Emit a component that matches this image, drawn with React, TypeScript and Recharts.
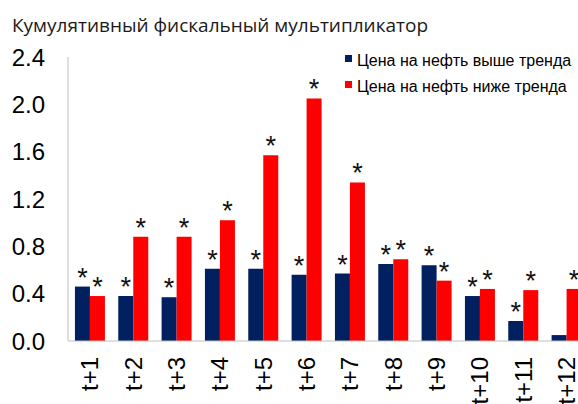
import React from "react";
import { BarChart, Bar, XAxis, YAxis, Legend, LabelList } from "recharts";

const categories = ["t+1", "t+2", "t+3", "t+4", "t+5", "t+6", "t+7", "t+8", "t+9", "t+10", "t+11", "t+12"];
const aboveTrend = [0.46, 0.38, 0.37, 0.61, 0.61, 0.56, 0.57, 0.65, 0.64, 0.38, 0.17, 0.05];
const belowTrend = [0.38, 0.88, 0.88, 1.02, 1.57, 2.05, 1.34, 0.69, 0.51, 0.44, 0.43, 0.44];
// significance marks (asterisks) above the bars
const aboveStars = [true, true, true, true, true, true, true, true, true, true, true, false];
const belowStars = [true, true, true, true, true, true, true, true, true, true, true, true];
const yTicks = [0, 0.4, 0.8, 1.2, 1.6, 2.0, 2.4];

const data = categories.map((cat, i) => ({
  cat,
  above: aboveTrend[i],
  below: belowTrend[i],
}));

const FONT = "'Liberation Sans', Arial, sans-serif";

function XTick(props: any) {
  const { x, y, payload } = props;
  return (
    <g transform={`translate(${x},${y})`}>
      <text transform="rotate(-90)" textAnchor="end" dy="0.36em" fontSize={24} fill="#000" fontFamily={FONT}>
        {payload.value}
      </text>
    </g>
  );
}

const star = (flags: boolean[]) => (props: any) => {
  const { x, y, width, index } = props;
  if (!flags[index]) return null;
  return (
    <text x={x + width / 2} y={y} textAnchor="middle" fontSize={27} fill="#111" fontFamily={FONT}>
      *
    </text>
  );
};

function LegendBox(props: any) {
  const { payload } = props;
  return (
    <svg width={240} height={60}>
      {payload.map((item: any, i: number) => (
        <g key={item.value}>
          <rect x={5} y={10 + i * 26} width={7} height={7} fill={item.color} />
          <text x={17} y={21 + i * 26} fontSize={16} fill="#000" fontFamily={FONT}>
            {item.value}
          </text>
        </g>
      ))}
    </svg>
  );
}

export default function App() {
  return (
    <div style={{ position: "fixed", left: 0, top: 0, width: 578, height: 404, overflow: "hidden", background: "#fff" }}>
      <svg width={578} height={40} style={{ position: "absolute", left: 0, top: 0 }}>
        <text x={12} y={32} fontSize={19} fill="#1a1a1a" fontFamily="'Open Sans', sans-serif">
          Кумулятивный фискальный мультипликатор
        </text>
      </svg>
      <div style={{ position: "absolute", left: 0, top: 0 }}>
        <BarChart
          width={600}
          height={420}
          data={data}
          margin={{ top: 57, right: 12, left: 0, bottom: 0 }}
          barCategoryGap="16%"
          barGap={0}
        >
          <XAxis
            dataKey="cat"
            interval={0}
            axisLine={{ stroke: "#bfbfbf" }}
            tickLine={false}
            tickSize={0}
            tickMargin={16}
            height={79}
            tick={<XTick />}
          />
          <YAxis
            domain={[0, 2.4]}
            ticks={yTicks}
            tickFormatter={(v: number) => v.toFixed(1)}
            width={68}
            axisLine={{ stroke: "#bfbfbf" }}
            tickLine={false}
            tickSize={0}
            tickMargin={23}
            tick={{ fontSize: 24, fill: "#000", fontFamily: FONT }}
          />
          <Legend
            layout="horizontal"
            verticalAlign="middle"
            content={<LegendBox />}
            wrapperStyle={{ position: "absolute", left: 340, top: 45, width: 240 }}
          />
          <Bar dataKey="above" name="Цена на нефть выше тренда" fill="#002060" isAnimationActive={false}>
            <LabelList dataKey="above" content={star(aboveStars)} />
          </Bar>
          <Bar dataKey="below" name="Цена на нефть ниже тренда" fill="#ff0000" isAnimationActive={false}>
            <LabelList dataKey="below" content={star(belowStars)} />
          </Bar>
        </BarChart>
      </div>
    </div>
  );
}
